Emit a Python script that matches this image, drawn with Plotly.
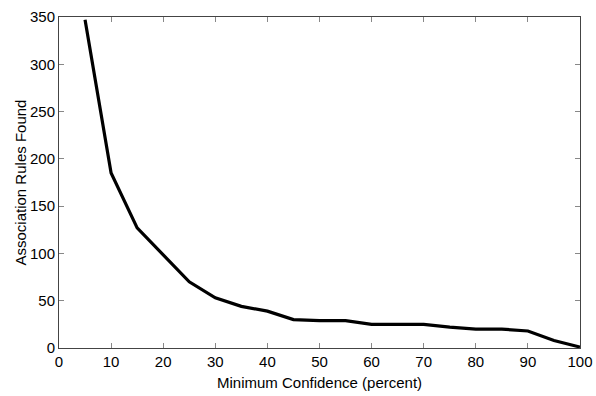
import plotly.graph_objects as go

min_conf = [5, 10, 15, 20, 25, 30, 35, 40, 45, 50, 55, 60, 65, 70, 75, 80, 85, 90, 95, 100]
rules_found = [347, 185, 127, 99, 70, 53, 44, 39, 30, 29, 29, 25, 25, 25, 22, 20, 20, 18, 8, 1]
x_ticks = [0, 10, 20, 30, 40, 50, 60, 70, 80, 90, 100]
y_ticks = [0, 50, 100, 150, 200, 250, 300, 350]

FONT = "Liberation Sans, Arial"

fig = go.Figure(go.Scatter(x=min_conf, y=rules_found, mode="lines",
                           line=dict(color="black", width=3.2)))

axis_common = dict(showgrid=False, zeroline=False, showline=True, linecolor="#444",
                   linewidth=1, mirror="ticks", ticks="inside", ticklen=5,
                   tickcolor="#888", automargin=False,
                   tickfont=dict(family=FONT, size=15, color="black"))

fig.update_layout(
    width=596, height=396,
    margin=dict(l=59, r=16, t=17, b=48),
    paper_bgcolor="white", plot_bgcolor="white",
    showlegend=False,
    font=dict(family=FONT, size=15, color="black"),
    xaxis=dict(range=[0, 100], tickvals=x_ticks, **axis_common),
    yaxis=dict(range=[0, 350], tickvals=y_ticks, **axis_common),
    annotations=[
        dict(text="Minimum Confidence (percent)", xref="paper", yref="paper",
             x=0.5, y=0, yshift=-34, xanchor="center", yanchor="middle",
             showarrow=False, font=dict(family=FONT, size=15, color="black")),
        dict(text="Association Rules Found", xref="paper", yref="paper",
             x=0, y=0.5, xshift=-39, xanchor="center", yanchor="middle", textangle=-90,
             showarrow=False, font=dict(family=FONT, size=15, color="black")),
    ],
)

fig.write_html("out.html", config={"displayModeBar": False},
               post_script="document.body.style.margin='0';document.body.style.overflow='hidden';")
